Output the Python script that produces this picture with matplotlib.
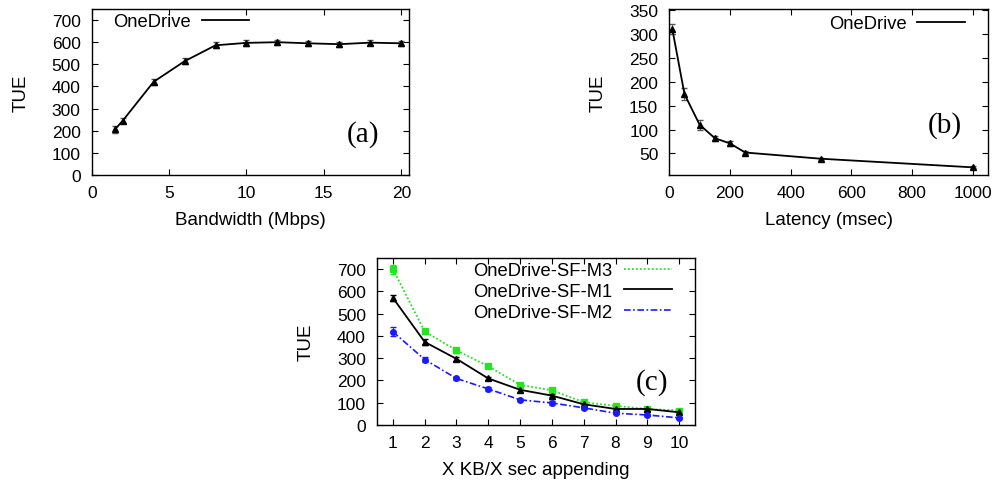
import matplotlib
matplotlib.use("Agg")
import matplotlib.pyplot as plt
from matplotlib.lines import Line2D

plt.rcParams['font.family'] = ['Liberation Sans', 'DejaVu Sans']
plt.rcParams['font.size'] = 13

# (a) bandwidth
bw_x = [1.5, 2, 4, 6, 8, 10, 12, 14, 16, 18, 20]
bw_tue = [206, 245, 421, 514, 586, 597, 600, 595, 591, 598, 595]
bw_err = [14, 12, 14, 14, 14, 12, 12, 10, 12, 10, 10]

# (b) latency
lat_x = [10, 50, 100, 150, 200, 250, 500, 1000]
lat_tue = [310, 174, 110, 82, 71, 52, 39, 21]
lat_err = [10, 12, 10, 5, 5, 3, 2, 2]

# (c) appending
app_x = [1, 2, 3, 4, 5, 6, 7, 8, 9, 10]
m3_tue = [700, 420, 335, 264, 180, 156, 102, 86, 72, 65]
m3_err = [20, 12, 12, 10, 8, 8, 5, 5, 4, 4]
m1_tue = [571, 373, 297, 209, 158, 132, 93, 72, 72, 57]
m1_err = [15, 15, 10, 8, 12, 8, 5, 4, 4, 3]
m2_tue = [419, 294, 209, 162, 113, 99, 77, 53, 45, 32]
m2_err = [20, 10, 8, 8, 6, 8, 5, 4, 3, 3]

W, H = 1003, 485
fig = plt.figure(figsize=(W / 100, H / 100), dpi=100)

TICK_FS = 12.5
LAB_FS = 13.5
LEG_FS = 13.2


def box(l, r, t, b):
    return [l / W, (H - b) / H, (r - l) / W, (b - t) / H]


def style(ax):
    ax.tick_params(direction='in', top=True, right=True, length=4, width=0.8,
                   labelsize=TICK_FS)
    ax.tick_params(axis='y', pad=8)
    ax.tick_params(axis='x', pad=7)
    for s in ax.spines.values():
        s.set_linewidth(1.0)


serif = ['Liberation Serif', 'DejaVu Serif']
leg_kw = dict(frameon=False, markerfirst=False, handlelength=2.6, handletextpad=0.6,
              borderpad=0, borderaxespad=0, fontsize=LEG_FS)

# Panel (a)
ax = fig.add_axes(box(91.7, 409, 10, 176))
ax.errorbar(bw_x, bw_tue, yerr=bw_err, color='black', lw=1.3, marker='^', ms=4.5,
            ecolor='#555555', elinewidth=0.6, capsize=2)
ax.set_xlim(0, 20.5)
ax.set_ylim(0, 750)
ax.set_xticks([0, 5, 10, 15, 20])
ax.set_yticks(range(0, 701, 100))
ax.set_xlabel('Bandwidth (Mbps)', labelpad=8, fontsize=LAB_FS)
ax.set_ylabel('TUE', labelpad=16, fontsize=LAB_FS)
style(ax)
ax.legend([Line2D([], [], color='black', lw=1.3)], ['OneDrive'], loc='upper left',
          bbox_to_anchor=(0.067, 0.976), **leg_kw)
ax.text(0.855, 0.247, '(a)', transform=ax.transAxes, family=serif, fontsize=21,
        ha='center', va='center')

# Panel (b)
ax = fig.add_axes(box(669.3, 988, 10, 176))
ax.errorbar(lat_x, lat_tue, yerr=lat_err, color='black', lw=1.3, marker='^', ms=4.5,
            ecolor='#555555', elinewidth=0.6, capsize=2)
ax.set_xlim(0, 1050)
ax.set_ylim(5, 352)
ax.set_xticks(range(0, 1001, 200))
ax.set_yticks(range(50, 351, 50))
ax.set_xlabel('Latency (msec)', labelpad=8, fontsize=LAB_FS)
ax.set_ylabel('TUE', labelpad=16, fontsize=LAB_FS)
style(ax)
ax.legend([Line2D([], [], color='black', lw=1.3)], ['OneDrive'], loc='upper right',
          bbox_to_anchor=(0.928, 0.964), **leg_kw)
ax.text(0.865, 0.307, '(b)', transform=ax.transAxes, family=serif, fontsize=21,
        ha='center', va='center')

# Panel (c)
ax = fig.add_axes(box(377, 695, 259, 426))
green = '#22e622'
blue = '#1a1aff'
ax.errorbar(app_x, m3_tue, yerr=m3_err, color=green, lw=1.3, ls=(0, (1, 1.2)), marker='s', ms=4,
            elinewidth=0.7, capsize=2)
ax.errorbar(app_x, m1_tue, yerr=m1_err, color='black', lw=1.3, marker='^', ms=4.5,
            elinewidth=0.7, capsize=2)
ax.errorbar(app_x, m2_tue, yerr=m2_err, color=blue, lw=1.2, ls=(0, (4, 1.5, 1, 1.5)), marker='o', ms=4,
            elinewidth=0.7, capsize=2)
ax.set_xlim(0.5, 10.5)
ax.set_ylim(0, 750)
ax.set_xticks(app_x)
ax.set_yticks(range(0, 701, 100))
ax.set_xlabel('X KB/X sec appending', labelpad=8, fontsize=LAB_FS)
ax.set_ylabel('TUE', labelpad=16, fontsize=LAB_FS)
style(ax)
handles = [Line2D([], [], color=green, lw=1.3, ls=(0, (1, 1.2))),
           Line2D([], [], color='black', lw=1.3),
           Line2D([], [], color=blue, lw=1.2, ls=(0, (4, 1.5, 1, 1.5)))]
ax.legend(handles, ['OneDrive-SF-M3', 'OneDrive-SF-M1', 'OneDrive-SF-M2'], loc='upper right',
          bbox_to_anchor=(0.928, 0.975), labelspacing=0.2,
          **dict(leg_kw, handletextpad=0.65))
ax.text(0.865, 0.263, '(c)', transform=ax.transAxes, family=serif, fontsize=21,
        ha='center', va='center')

fig.savefig('out.png', dpi=100)
